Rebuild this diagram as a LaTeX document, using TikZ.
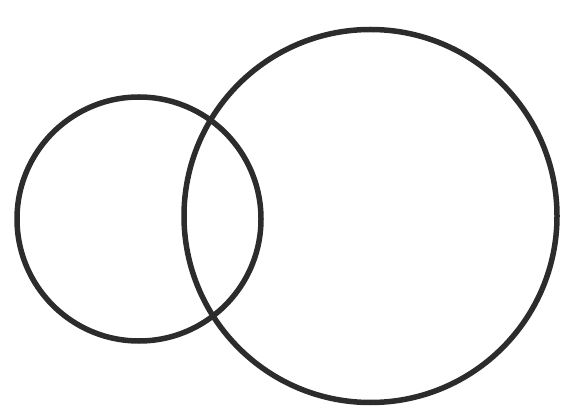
\documentclass[tikz,border=0pt]{standalone}
\usepackage{tikz}
\usepackage{xcolor}
\definecolor{ringdark}{RGB}{44, 44, 44}
\tikzstyle{ring}=[line width=5.5pt, color=ringdark]

\begin{document}
\begin{tikzpicture}[x=1pt, y=-1pt]
    \useasboundingbox (0,0) rectangle (580,411);
    % Centres
    \coordinate (small) at (139,219);
    \coordinate (large) at (370.5,216);

    % Rings
    \draw[ring] (small) circle (122);
    \draw[ring] (large) circle (186.5);

\end{tikzpicture}
\end{document}
